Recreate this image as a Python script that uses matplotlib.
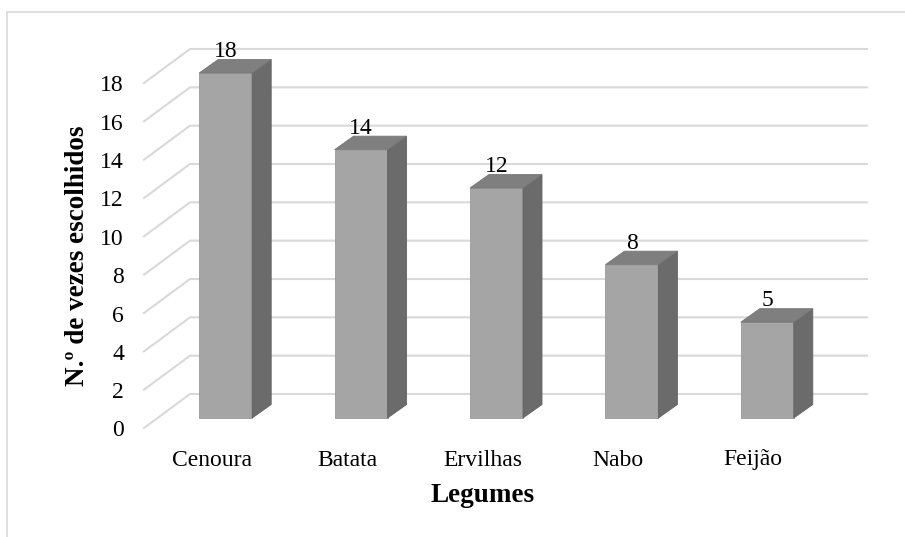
import matplotlib.pyplot as plt
from matplotlib.patches import Polygon, Rectangle

# data
legumes = ['Cenoura', 'Batata', 'Ervilhas', 'Nabo', 'Feijão']
escolhas = [18, 14, 12, 8, 5]
y_ticks = list(range(0, 20, 2))

plt.rcParams['font.family'] = ['Liberation Serif', 'DejaVu Serif']

W, H = 905, 537
fig = plt.figure(figsize=(W / 100, H / 100), dpi=100)

# floor front edge: x from 144 to 821 px, value 0..18 from 428 to 83 px
ax = fig.add_axes([144 / W, (H - 428) / H, (821 - 144) / W, (428 - 83) / H])
ax.set_xlim(-0.5, 4.5)
ax.set_ylim(0, 18)
ax.axis('off')

px_x = 5 / (821 - 144)      # category units per pixel
px_y = 18 / (428 - 83)      # value units per pixel

# oblique offsets (pixels -> data units)
wall_dx, wall_dy = 46 * px_x, 34 * px_y     # back wall
bar_dx, bar_dy = 14 * px_x, 10 * px_y       # bar front face
dep_dx, dep_dy = 19 * px_x, 13.5 * px_y     # bar depth
bar_w = 53 * px_x

grid_c = '#d9d9d9'
for v in y_ticks:
    ax.plot([-0.5, -0.5 + wall_dx, 4.5 + wall_dx], [v, v + wall_dy, v + wall_dy],
            color=grid_c, lw=1.5, clip_on=False, zorder=1)
    ax.text(-0.5 - 20 * px_x, v - 3 * px_y, str(v), ha='right', va='center',
            fontsize=17)

front_c, side_c, top_c = '#a5a5a5', '#6b6b6b', '#7f7f7f'
for i, (nome, val) in enumerate(zip(legumes, escolhas)):
    x0 = i - bar_w / 2 + bar_dx
    x1 = x0 + bar_w
    y0 = bar_dy
    y1 = val + bar_dy
    ax.add_patch(Rectangle((x0, y0), bar_w, val, fc=front_c, ec='#999999',
                           lw=0.6, clip_on=False, zorder=3))
    ax.add_patch(Polygon([(x1, y0), (x1 + dep_dx, y0 + dep_dy),
                          (x1 + dep_dx, y1 + dep_dy), (x1, y1)],
                         fc=side_c, ec='#636363', lw=0.6, clip_on=False, zorder=3))
    ax.add_patch(Polygon([(x0, y1), (x1, y1), (x1 + dep_dx, y1 + dep_dy),
                          (x0 + dep_dx, y1 + dep_dy)],
                         fc=top_c, ec='#777777', lw=0.6, clip_on=False, zorder=3))
    ax.text(i + bar_dx, y1 + dep_dy + 8 * px_y, str(val), ha='center', va='center',
            fontsize=17, zorder=4)
    ax.text(i, -32 * px_y, nome, ha='center', va='center', fontsize=17)

ax.text(2.0 - (212.5 + 2 * 135.25 - 483) * px_x, -67 * px_y, 'Legumes',
        ha='center', va='center', fontsize=19.5, fontweight='bold')
fig.text(78 / W, 1 - 256 / H, 'N.º de vezes escolhidos', rotation=90,
         ha='center', va='center', fontsize=19.5, fontweight='bold')

# chart area border
fig.add_artist(Rectangle((7 / W, -0.01), 1.0, 1 - 12 / H + 0.01,
                         transform=fig.transFigure, fill=False,
                         ec='#d9d9d9', lw=1.2))

fig.savefig('out.png', dpi=100)
